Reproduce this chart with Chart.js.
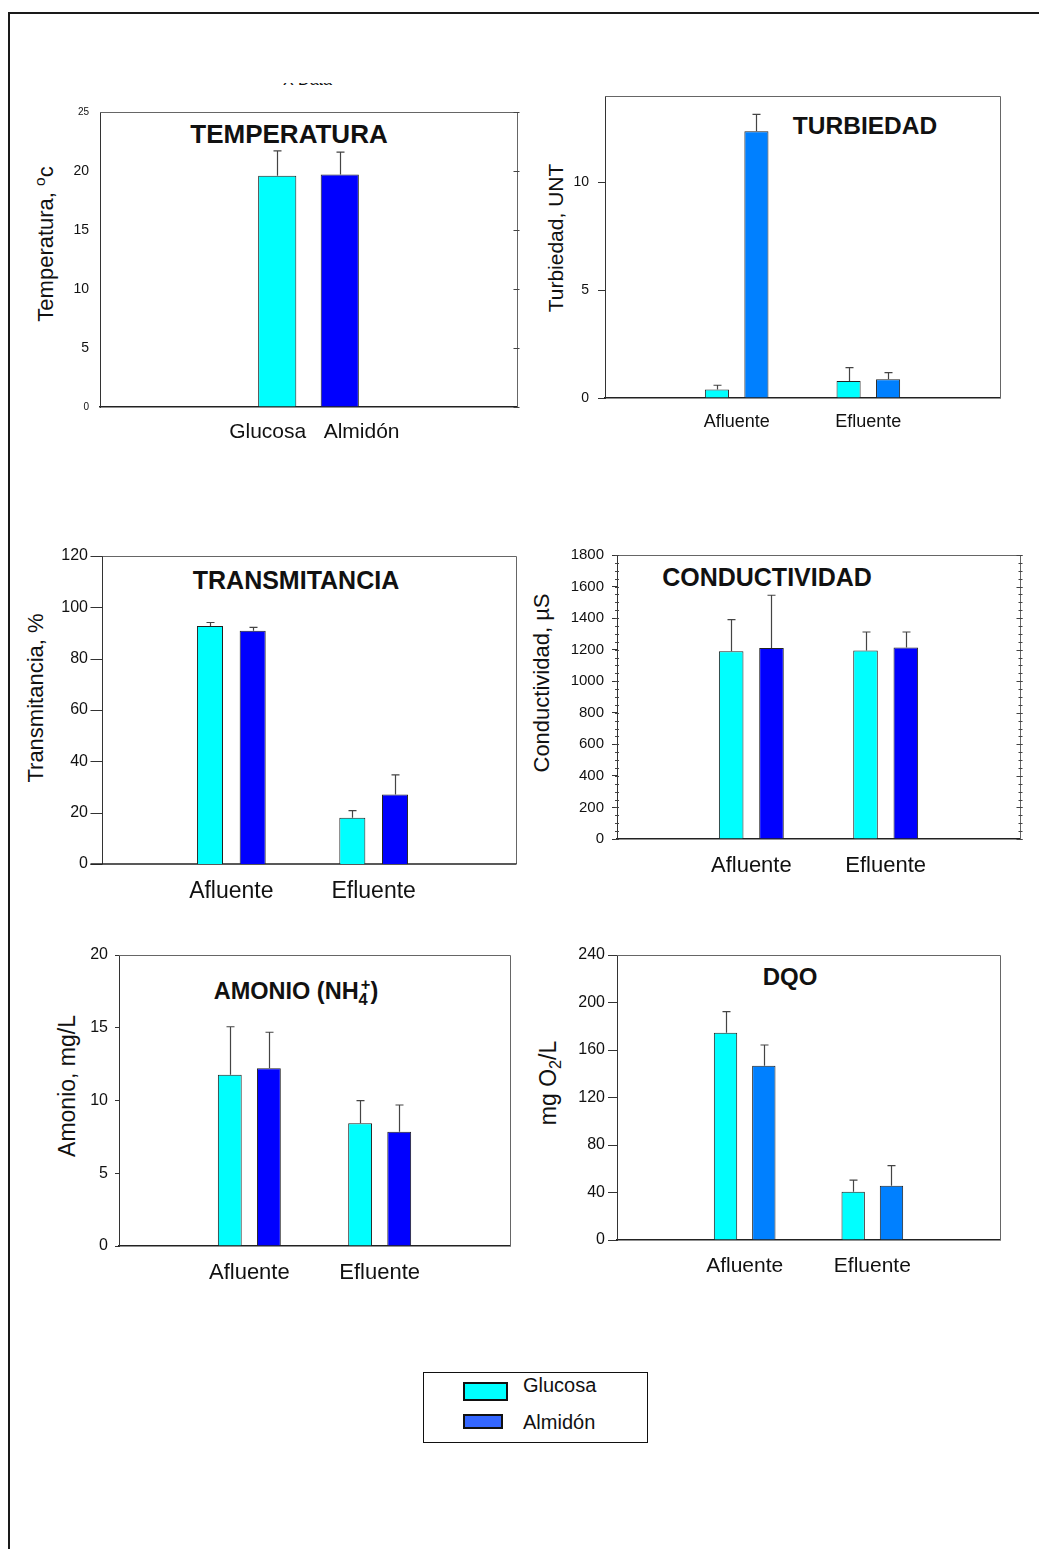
<!DOCTYPE html>
<html lang="es">
<head>
<meta charset="utf-8">
<title>Glucosa vs Almidón</title>
<script src="https://cdn.jsdelivr.net/npm/chart.js@4.4.0/dist/chart.umd.min.js"></script>
<style>
  html,body{margin:0;padding:0;background:#fff;}
  body{position:relative;width:1039px;height:1549px;overflow:hidden;font-family:'Liberation Sans',Arial,Helvetica,sans-serif;color:#111;}
  .frame{position:absolute;left:8px;top:12px;width:1200px;height:1700px;border:2px solid #1a1a1a;}
  canvas{position:absolute;}
  .title{position:absolute;font-weight:bold;white-space:nowrap;line-height:1;transform:translate(-50%,-50%);}
  .ytitle{position:absolute;white-space:nowrap;line-height:1;transform:translate(-50%,-50%) rotate(-90deg);}
  sub,sup{font-size:70%;line-height:0;}
  sup.stack{margin-left:-0.42em;}
  .clip{position:absolute;left:283px;top:83px;width:56px;height:2px;overflow:hidden;}
  .clip span{position:absolute;left:0;top:-11.5px;font-size:16px;line-height:16px;white-space:nowrap;}
  .legend{position:absolute;left:423px;top:1372px;width:225px;height:71px;border:1.5px solid #111;box-sizing:border-box;}
  .sw{position:absolute;box-sizing:border-box;border:2px solid #111;}
  .lt{position:absolute;font-size:20px;line-height:1;transform:translateY(-50%);}
</style>
</head>
<body>
<div class="frame"></div>
<div class="clip"><span>X Data</span></div>

<div class="title" style="left:289px;top:134px;font-size:26px">TEMPERATURA</div>
<div class="title" style="left:865px;top:126px;font-size:24.5px">TURBIEDAD</div>
<div class="title" style="left:296px;top:580px;font-size:25px">TRANSMITANCIA</div>
<div class="title" style="left:767px;top:577px;font-size:25px">CONDUCTIVIDAD</div>
<div class="title" style="left:296px;top:992px;font-size:23.5px">AMONIO (NH<sub>4</sub><sup class="stack">+</sup>)</div>
<div class="title" style="left:790px;top:977px;font-size:24px">DQO</div>

<div class="ytitle" style="left:46px;top:244px;font-size:22px">Temperatura, <sup>o</sup>c</div>
<div class="ytitle" style="left:555px;top:238px;font-size:21px">Turbiedad, UNT</div>
<div class="ytitle" style="left:36px;top:698px;font-size:22px">Transmitancia, %</div>
<div class="ytitle" style="left:542px;top:683px;font-size:22px">Conductividad, µS</div>
<div class="ytitle" style="left:67px;top:1086px;font-size:23px">Amonio, mg/L</div>
<div class="ytitle" style="left:548px;top:1083px;font-size:23px">mg O<sub>2</sub>/L</div>

<div class="legend"></div>
<div class="sw" style="left:463px;top:1382px;width:45px;height:19px;background:#00FFFF"></div>
<div class="lt" style="left:523px;top:1385px">Glucosa</div>
<div class="sw" style="left:463px;top:1414px;width:40px;height:15px;background:#3366FF"></div>
<div class="lt" style="left:523px;top:1422px">Almidón</div>

<script>
// categorías (los huecos vacíos dejan las barras en los tercios del eje)
const groups = ['', 'Afluente', 'Efluente', ''];
const tempLabels = ['', '  Glucosa   Almidón', ''];
const seriesNames = ['Glucosa', 'Almidón'];

// valores medios y desviación (hacia arriba)
const tempGlucosa = [null, 19.6, null];       const tempGlucosaErr = [0, 2.1, 0];
const tempAlmidon = [null, 19.7, null];       const tempAlmidonErr = [0, 1.9, 0];
const turbGlucosa = [null, 0.39, 0.79, null]; const turbGlucosaErr = [0, 0.2, 0.62, 0];
const turbAlmidon = [null, 12.37, 0.87, null]; const turbAlmidonErr = [0, 0.78, 0.31, 0];
const transGlucosa = [null, 92.7, 18.0, null]; const transGlucosaErr = [0, 1.4, 2.8, 0];
const transAlmidon = [null, 90.9, 27.1, null]; const transAlmidonErr = [0, 1.3, 7.6, 0];
const condGlucosa = [null, 1190, 1194, null]; const condGlucosaErr = [0, 200, 118, 0];
const condAlmidon = [null, 1211, 1213, null]; const condAlmidonErr = [0, 334, 99, 0];
const amonGlucosa = [null, 11.77, 8.43, null]; const amonGlucosaErr = [0, 3.3, 1.56, 0];
const amonAlmidon = [null, 12.21, 7.86, null]; const amonAlmidonErr = [0, 2.48, 1.83, 0];
const dqoGlucosa = [null, 174.6, 40.7, null]; const dqoGlucosaErr = [0, 17.7, 9.8, 0];
const dqoAlmidon = [null, 146.8, 45.7, null]; const dqoAlmidonErr = [0, 17.4, 16.9, 0];

// marcas del eje y
const tempTicks = [0, 5, 10, 15, 20, 25];
const turbTicks = [0, 5, 10];
const transTicks = [0, 20, 40, 60, 80, 100, 120];
const condTicks = [0, 200, 400, 600, 800, 1000, 1200, 1400, 1600, 1800];
const amonTicks = [0, 5, 10, 15, 20];
const dqoTicks = [0, 40, 80, 120, 160, 200, 240];

const cyan = '#00FFFF', blue = '#0000FF', azure = '#0080FF';
const FONT = "'Liberation Sans', Arial, Helvetica, sans-serif";

const errorBars = {
  id: 'errorBars',
  afterDatasetsDraw(chart) {
    const {ctx, scales: {y}} = chart;
    ctx.save();
    ctx.strokeStyle = '#444';
    ctx.lineWidth = 1.2;
    chart.data.datasets.forEach((ds, k) => {
      chart.getDatasetMeta(k).data.forEach((bar, i) => {
        if (ds.data[i] === null) return;
        const top = y.getPixelForValue(ds.data[i] + ds.err[i]);
        const x = Math.round(bar.x) + 0.5;
        ctx.beginPath();
        ctx.moveTo(x, bar.y); ctx.lineTo(x, top);
        ctx.moveTo(x - 4, top); ctx.lineTo(x + 4, top);
        ctx.stroke();
      });
    });
    ctx.restore();
  }
};

// top/right frame, small ticks on the right side; with `inset` the left/bottom axes are drawn here too
const frame = {
  id: 'frame',
  beforeDatasetsDraw(chart, args, opts) {
    const {ctx, chartArea: a, scales: {y}} = chart;
    const r = Math.round(a.right) + 0.5, t = Math.round(a.top) + 0.5;
    const l = a.left + (opts.inset || 0);
    ctx.save();
    ctx.strokeStyle = '#666';
    ctx.lineWidth = 1;
    ctx.beginPath();
    ctx.moveTo(l, t); ctx.lineTo(r, t); ctx.lineTo(r, a.bottom);
    ctx.stroke();
    if (opts.inset) {
      const lx = Math.round(l) + 0.5;
      ctx.strokeStyle = '#333';
      ctx.beginPath();
      ctx.moveTo(lx, t); ctx.lineTo(lx, a.bottom);
      y.ticks.forEach(tk => {
        const py = Math.round(y.getPixelForValue(tk.value)) + 0.5;
        ctx.moveTo(lx - opts.tickLen, py); ctx.lineTo(lx, py);
      });
      ctx.stroke();
      ctx.strokeStyle = '#222';
      ctx.lineWidth = 1.5;
      ctx.beginPath();
      ctx.moveTo(lx - opts.tickLen, a.bottom); ctx.lineTo(r, a.bottom);
      ctx.stroke();
      ctx.lineWidth = 1;
    }
    ctx.strokeStyle = '#444';
    if (opts.minorStep) {
      ctx.beginPath();
      for (let v = 0; v <= y.max; v += opts.minorStep) {
        const py = Math.round(y.getPixelForValue(v)) + 0.5;
        ctx.moveTo(a.left - 2, py); ctx.lineTo(a.left + 2, py);
        ctx.moveTo(r - 2, py); ctx.lineTo(r + 2, py);
      }
      ctx.stroke();
    }
    if (opts.rightTicks) {
      ctx.beginPath();
      y.ticks.forEach(tk => {
        const py = Math.round(y.getPixelForValue(tk.value)) + 0.5;
        ctx.moveTo(r - 4, py); ctx.lineTo(r + 2, py);
      });
      ctx.stroke();
    }
    ctx.restore();
  }
};

function draw(cfg) {
  const b = cfg.box;
  const inset = cfg.frame && cfg.frame.inset;
  const padL = 70, padT = 24, padR = 8, xH = 50;
  const cv = document.createElement('canvas');
  cv.width = (b.R - b.L) + padL + padR;
  cv.height = (b.B - b.T) + padT + xH;
  cv.style.left = (b.L - padL) + 'px';
  cv.style.top = (b.T - padT) + 'px';
  document.body.appendChild(cv);

  const datasets = cfg.series.map((s, k) => ({
    label: seriesNames[k],
    data: s.values,
    err: s.err,
    backgroundColor: s.color,
    borderColor: '#222',
    borderWidth: 1,
    categoryPercentage: 0.6,
    barPercentage: 0.61
  }));

  new Chart(cv, {
    type: 'bar',
    data: {labels: cfg.labels, datasets},
    options: {
      responsive: false,
      animation: false,
      devicePixelRatio: 1,
      layout: {padding: {left: 0, top: padT, right: padR, bottom: 0}},
      plugins: {legend: {display: false}, tooltip: {enabled: false}, frame: cfg.frame || {}},
      scales: {
        x: {
          type: 'category', offset: false,
          afterFit: s => { s.height = xH; },
          grid: {display: false, offset: false},
          border: {display: !inset, color: '#222', width: 1.5},
          ticks: {autoSkip: false, maxRotation: 0, padding: cfg.xPad, color: '#111',
            font: {family: FONT, size: cfg.xFont}}
        },
        y: {
          min: 0, max: cfg.yMax,
          afterBuildTicks: s => { s.ticks = cfg.yTicks.map(v => ({value: v})); },
          afterFit: s => { s.width = padL; },
          grid: {display: !inset, drawOnChartArea: false, drawTicks: cfg.tickLen > 0, tickLength: cfg.tickLen, color: '#333'},
          border: {display: !inset, color: '#333', width: 1},
          ticks: {padding: cfg.yPad, color: '#111', callback: v => String(v),
            font: cfg.yFont || {family: FONT, size: cfg.yFontSize}}
        }
      }
    },
    plugins: [frame, errorBars]
  });
}

draw({
  box: {L: 100, T: 112, R: 517, B: 407}, labels: tempLabels,
  xFont: 21, xPad: 5, yMax: 25, yTicks: tempTicks, tickLen: 0, yPad: 11,
  yFont: c => ({family: FONT, size: (c.tick && (c.tick.value === 0 || c.tick.value === 25)) ? 10 : 14}),
  frame: {rightTicks: true},
  series: [
    {values: tempGlucosa, err: tempGlucosaErr, color: cyan},
    {values: tempAlmidon, err: tempAlmidonErr, color: blue}
  ]
});
draw({
  box: {L: 605, T: 96, R: 1000, B: 398}, labels: groups,
  xFont: 18, xPad: 5, yMax: 14, yTicks: turbTicks, tickLen: 7, yPad: 9, yFontSize: 14,
  series: [
    {values: turbGlucosa, err: turbGlucosaErr, color: cyan},
    {values: turbAlmidon, err: turbAlmidonErr, color: azure}
  ]
});
// the category thirds sit a bit left in this panel, so the scale starts 13px before the drawn axis
draw({
  box: {L: 89, T: 556, R: 516, B: 864}, labels: groups,
  xFont: 23, xPad: 5.5, yMax: 120, yTicks: transTicks, tickLen: 0, yPad: 1, yFontSize: 16,
  frame: {inset: 13, tickLen: 12},
  series: [
    {values: transGlucosa, err: transGlucosaErr, color: cyan},
    {values: transAlmidon, err: transAlmidonErr, color: blue}
  ]
});
draw({
  box: {L: 617, T: 555, R: 1020, B: 839}, labels: groups,
  xFont: 22, xPad: 6, yMax: 1800, yTicks: condTicks, tickLen: 5, yPad: 8, yFontSize: 15,
  frame: {rightTicks: true, minorStep: 50},
  series: [
    {values: condGlucosa, err: condGlucosaErr, color: cyan},
    {values: condAlmidon, err: condAlmidonErr, color: blue}
  ]
});
draw({
  box: {L: 119, T: 955, R: 510, B: 1246}, labels: groups,
  xFont: 22, xPad: 6, yMax: 20, yTicks: amonTicks, tickLen: 4, yPad: 7, yFontSize: 16,
  series: [
    {values: amonGlucosa, err: amonGlucosaErr, color: cyan},
    {values: amonAlmidon, err: amonAlmidonErr, color: blue}
  ]
});
draw({
  box: {L: 617, T: 955, R: 1000, B: 1240}, labels: groups,
  xFont: 21, xPad: 6, yMax: 240, yTicks: dqoTicks, tickLen: 9, yPad: 3, yFontSize: 16,
  series: [
    {values: dqoGlucosa, err: dqoGlucosaErr, color: cyan},
    {values: dqoAlmidon, err: dqoAlmidonErr, color: azure}
  ]
});
</script>
</body>
</html>
